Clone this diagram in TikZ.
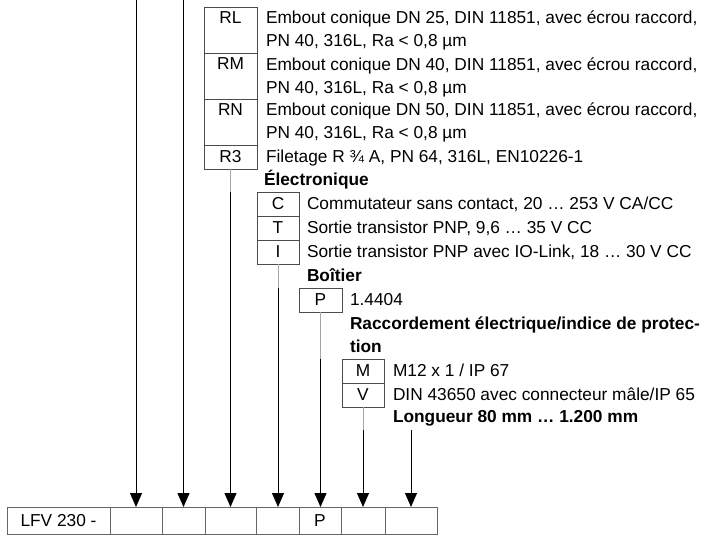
\documentclass[tikz,border=0pt]{standalone}
\usepackage{fontspec}
\setmainfont{Liberation Sans}
\usetikzlibrary{arrows.meta}
\begin{document}
\begin{tikzpicture}[x=1pt,y=-1pt,
    every node/.style={inner sep=0pt, outer sep=0pt, font=\fontsize{17.3}{23}\selectfont},
    code/.style={draw=black!70, line width=.8pt, anchor=north west, text height=17pt, text depth=7pt},
    tall/.style={text depth=29pt},
    cell/.style={draw=black!60, line width=.8pt, anchor=north west, text height=19.5pt, text depth=7.5pt},
    desc/.style={anchor=base west, align=left},
    head/.style={desc, font=\fontsize{17.3}{23}\selectfont\bfseries},
    feed/.style={draw=black!35, line width=.6pt},
    arr/.style={line width=1pt, -{Triangle[width=12pt,length=14pt]}}]
    \useasboundingbox (0,0) rectangle (710,535);
    \node[code, tall, minimum width=53pt] (rl) at (204,7) {RL};
    \node[code, tall, minimum width=53pt] (rm) at (204,53) {RM};
    \node[code, tall, minimum width=53pt] (rn) at (204,99) {RN};
    \node[code, minimum width=53pt] (r3) at (204,145) {R3};
    \node[desc] (drl) at (266,47) {Embout conique DN 25, DIN 11851, avec écrou raccord,\\PN 40, 316L, Ra < 0,8 µm};
    \node[desc] (drm) at (266,93) {Embout conique DN 40, DIN 11851, avec écrou raccord,\\PN 40, 316L, Ra < 0,8 µm};
    \node[desc] (drn) at (266,139) {Embout conique DN 50, DIN 11851, avec écrou raccord,\\PN 40, 316L, Ra < 0,8 µm};
    \node[desc] (dr3) at (266,162) {Filetage R ¾ A, PN 64, 316L, EN10226-1};
    \node[head] (hel) at (264,185) {Électronique};
    \node[code, minimum width=42pt] (c) at (257,192) {C};
    \node[code, minimum width=42pt] (t) at (257,216) {T};
    \node[code, minimum width=42pt] (i) at (257,240) {I};
    \node[desc] (dc) at (307,209) {Commutateur sans contact, 20 … 253 V CA/CC};
    \node[desc] (dt) at (307,233) {Sortie transistor PNP, 9,6 … 35 V CC};
    \node[desc] (di) at (307,257) {Sortie transistor PNP avec IO-Link, 18 … 30 V CC};
    \node[head] (hbo) at (307,281) {Boîtier};
    \node[code, minimum width=43pt] (p) at (299,288) {P};
    \node[desc] (dp) at (350,305) {1.4404};
    \node[head] (hra) at (350,352) {Raccordement électrique/indice de protec-\\tion};
    \node[code, minimum width=42pt] (m) at (342,359) {M};
    \node[code, minimum width=42pt] (v) at (342,383) {V};
    \node[desc] (dm) at (393,376) {M12 x 1 / IP 67};
    \node[desc] (dv) at (393,400) {DIN 43650 avec connecteur mâle/IP 65};
    \node[head] (hlo) at (393,422) {Longueur 80 mm … 1.200 mm};
    \node[cell, minimum width=103pt] (b0) at (7,507) {LFV 230 -};
    \node[cell, minimum width=52pt] (b1) at (110,507) {};
    \node[cell, minimum width=43pt] (b2) at (162,507) {};
    \node[cell, minimum width=51pt] (b3) at (205,507) {};
    \node[cell, minimum width=43pt] (b4) at (256,507) {};
    \node[cell, minimum width=42pt] (b5) at (299,507) {P};
    \node[cell, minimum width=44pt] (b6) at (341,507) {};
    \node[cell, minimum width=52pt] (b7) at (385,507) {};
    \coordinate (in1) at (136,0);
    \coordinate (in2) at (183.5,0);
    \coordinate (in7) at (411,430);
    \draw[arr] (in1) -- (in1 |- b1.north);
    \draw[arr] (in2) -- (in2 |- b2.north);
    \draw[feed] (r3.south) -- (r3.south |- c.north);
    \draw[arr] (r3.south |- c.north) -- (r3.south |- b3.north);
    \draw[feed] (i.south) -- (i.south |- p.north);
    \draw[arr] (i.south |- p.north) -- (i.south |- b4.north);
    \draw[feed] (p.south) -- (p.south |- m.north);
    \draw[arr] (p.south |- m.north) -- (p.south |- b5.north);
    \draw[feed] (v.south) -- (v.south |- in7);
    \draw[arr] (v.south |- in7) -- (v.south |- b6.north);
    \draw[arr] (in7) -- (in7 |- b7.north);
\end{tikzpicture}
\end{document}
